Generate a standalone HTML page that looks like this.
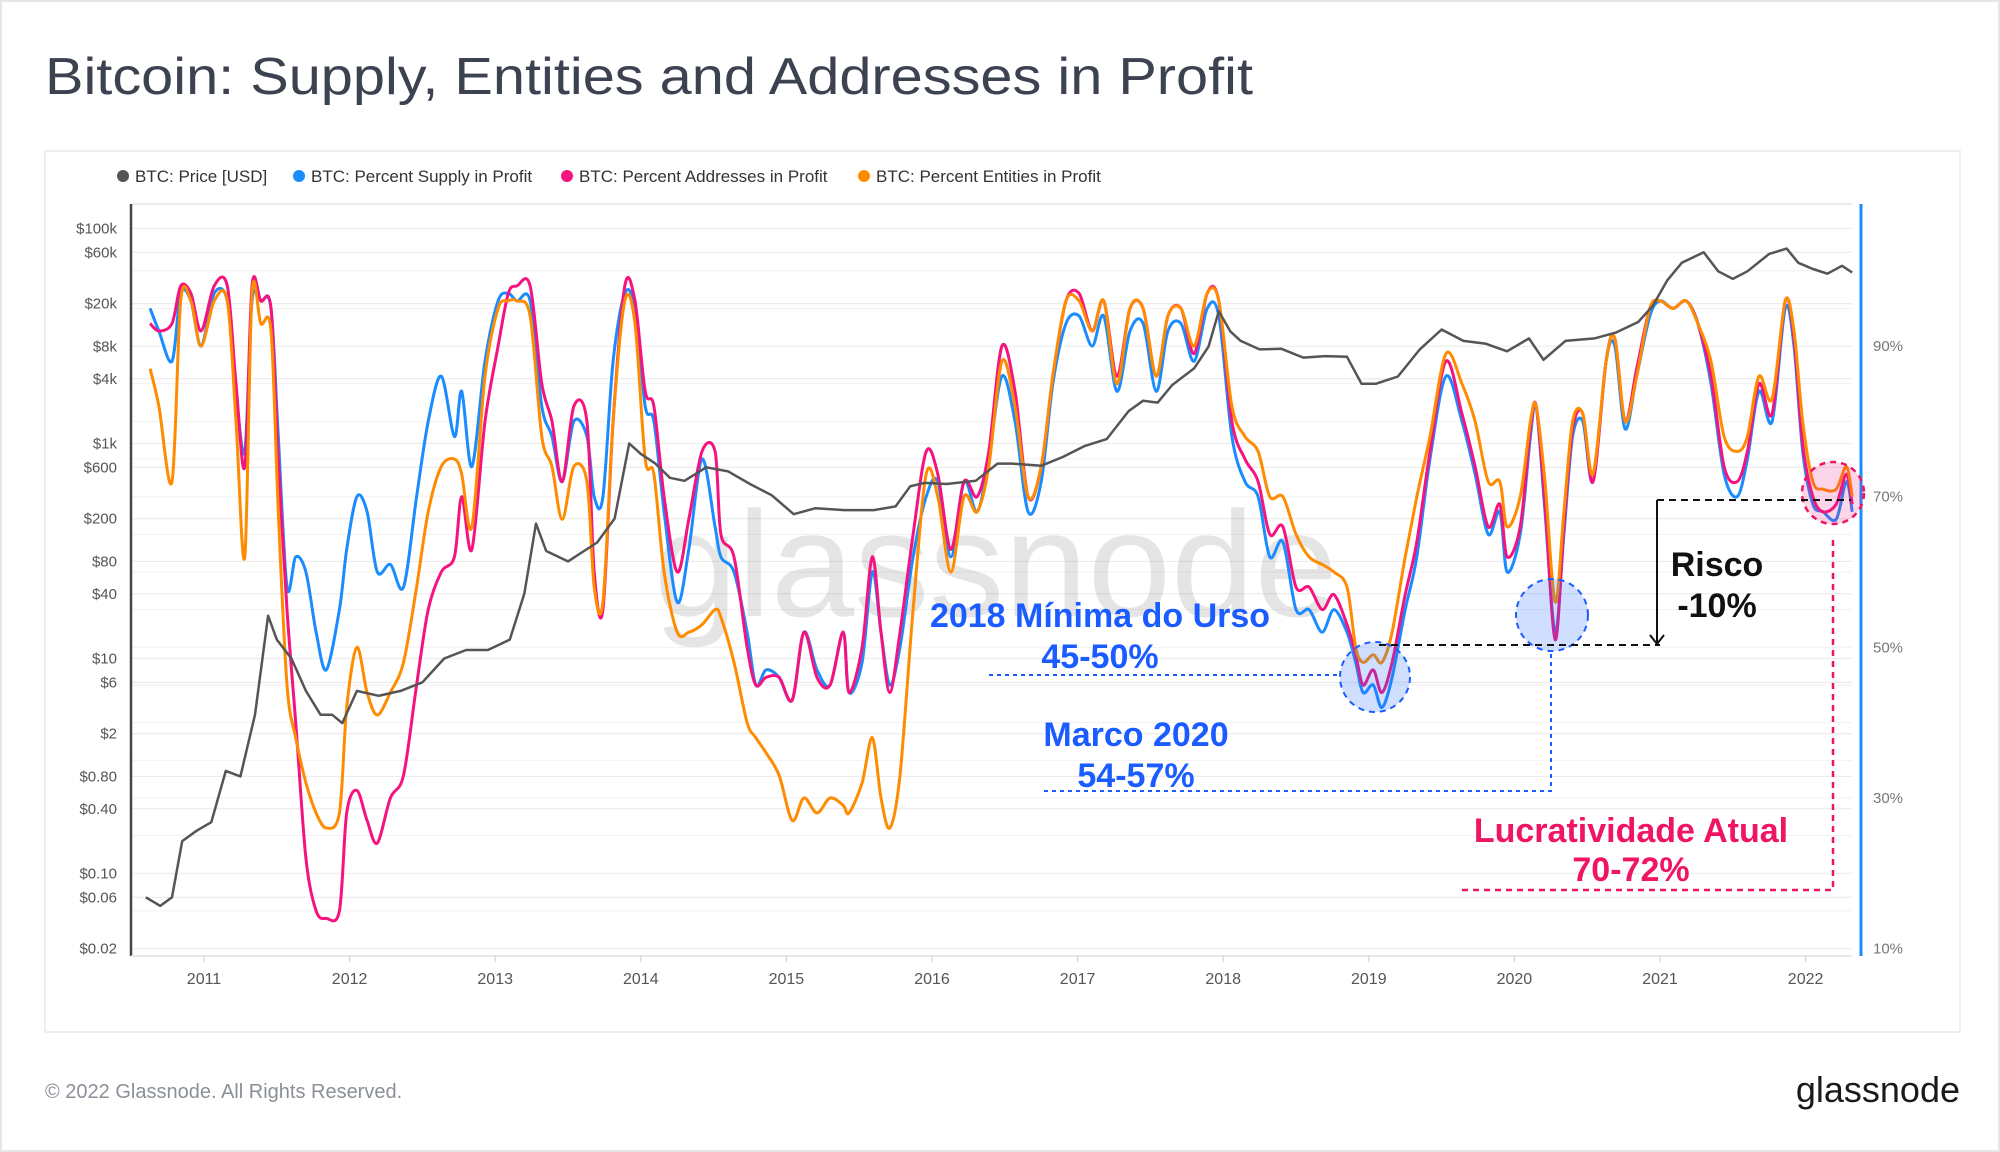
<!DOCTYPE html>
<html><head><meta charset="utf-8">
<style>
html,body{margin:0;padding:0;background:#fff;}
body{width:2000px;height:1152px;overflow:hidden;position:relative;font-family:"Liberation Sans",sans-serif;}
svg{position:absolute;left:0;top:0;}
</style></head>
<body>
<svg id="chart" width="2000" height="1152" xmlns="http://www.w3.org/2000/svg">
  <rect x="1" y="1" width="1998" height="1150" fill="#fff" stroke="#e6e6e6" stroke-width="2"/>
  <text x="45" y="94" font-size="52" fill="#3c4250" textLength="1208" lengthAdjust="spacingAndGlyphs">Bitcoin: Supply, Entities and Addresses in Profit</text>
  <rect x="45" y="151" width="1915" height="881" fill="#fff" stroke="#e8e8e8" stroke-width="1.5"/>
  <g id="legend" font-size="17" fill="#333"></g>
  <g id="grid"></g>
  <text x="996" y="616" font-size="150" fill="#000" fill-opacity="0.10" text-anchor="middle">glassnode</text>
  <g id="axes"></g>
  <g id="series"></g>
  <g id="annot"></g>
  <text x="45" y="1098" font-size="20" fill="#8a8f98">© 2022 Glassnode. All Rights Reserved.</text>
  <text x="1960" y="1102" font-size="36" fill="#1a1a1a" text-anchor="end">glassnode</text>
</svg>
<script>
const NS="http://www.w3.org/2000/svg";
const legendLabels=["BTC: Price [USD]","BTC: Percent Supply in Profit","BTC: Percent Addresses in Profit","BTC: Percent Entities in Profit"];
const yearTicks=[2011,2012,2013,2014,2015,2016,2017,2018,2019,2020,2021,2022];
const priceTicks=[100000,60000,20000,8000,4000,1000,600,200,80,40,10,6,2,0.8,0.4,0.1,0.06,0.02];
const priceTickLabels=["$100k","$60k","$20k","$8k","$4k","$1k","$600","$200","$80","$40","$10","$6","$2","$0.80","$0.40","$0.10","$0.06","$0.02"];
const pctTicks=[90,70,50,30,10];
const dates=[2010.63,2010.69,2010.78,2010.84,2010.91,2010.98,2011.07,2011.16,2011.22,2011.28,2011.33,2011.39,2011.46,2011.51,2011.57,2011.63,2011.70,2011.77,2011.84,2011.93,2011.98,2012.05,2012.12,2012.19,2012.28,2012.37,2012.46,2012.54,2012.63,2012.72,2012.77,2012.84,2012.93,2013.02,2013.09,2013.15,2013.24,2013.32,2013.39,2013.46,2013.54,2013.63,2013.68,2013.74,2013.81,2013.89,2013.96,2014.03,2014.09,2014.16,2014.25,2014.33,2014.42,2014.51,2014.55,2014.64,2014.73,2014.79,2014.86,2014.95,2015.04,2015.12,2015.21,2015.30,2015.39,2015.43,2015.52,2015.59,2015.65,2015.71,2015.78,2015.87,2015.96,2016.04,2016.13,2016.22,2016.31,2016.39,2016.48,2016.57,2016.66,2016.75,2016.83,2016.92,2017.01,2017.10,2017.18,2017.27,2017.36,2017.45,2017.54,2017.62,2017.71,2017.80,2017.89,2017.97,2018.06,2018.15,2018.24,2018.32,2018.41,2018.50,2018.59,2018.68,2018.76,2018.85,2018.91,2018.96,2019.03,2019.09,2019.16,2019.25,2019.33,2019.42,2019.53,2019.64,2019.73,2019.82,2019.90,2019.95,2020.04,2020.11,2020.15,2020.21,2020.28,2020.34,2020.40,2020.47,2020.54,2020.63,2020.69,2020.76,2020.84,2020.93,2021.00,2021.09,2021.18,2021.26,2021.35,2021.44,2021.53,2021.60,2021.68,2021.77,2021.86,2021.92,2021.98,2022.05,2022.12,2022.21,2022.28,2022.32];
const supplyPct=[95,92,88,97,96,90,97,96,84,76,96,96,95,78,58,62,60,52,47,55,63,70,68,60,61,58,70,80,86,78,84,74,88,96,97,96,96,82,78,72,80,78,70,70,88,97,95,82,80,68,56,63,75,66,62,60,52,45,47,46,43,52,47,45,52,44,48,60,52,45,50,62,70,72,62,72,68,75,86,80,68,72,85,93,94,90,94,84,92,93,84,92,93,88,95,94,78,72,70,62,64,55,55,52,55,52,48,44,45,42,46,55,62,75,86,80,73,65,68,60,65,78,82,68,52,65,78,80,72,88,90,79,86,94,96,95,96,93,85,73,70,75,84,80,95,90,76,69,68,67,72,68];
const addressPct=[93,92,93,98,97,92,98,98,85,74,98,96,95,75,55,40,22,15,14,15,28,31,27,24,30,33,45,55,60,62,70,63,80,90,97,98,98,85,80,72,82,80,60,55,80,98,96,84,82,70,60,67,76,76,65,62,50,45,46,46,43,52,46,45,52,44,50,62,52,44,52,65,76,73,63,72,70,76,90,84,70,74,86,96,97,92,96,86,95,95,86,94,95,89,97,96,80,75,72,65,66,58,58,55,57,53,49,45,47,44,48,57,64,76,88,81,74,66,69,62,66,79,82,69,51,66,79,81,72,88,91,80,87,95,96,95,96,93,86,74,72,76,85,81,96,91,77,70,68,69,73,69];
const entityPct=[87,82,72,96,96,90,96,96,80,62,97,93,92,68,45,38,32,28,26,28,42,50,44,41,44,48,58,68,74,75,73,66,86,95,96,96,94,78,74,67,74,72,58,56,80,96,93,75,73,60,52,52,53,55,54,48,40,38,36,33,27,30,28,30,29,28,32,38,30,26,33,55,73,70,60,70,68,74,88,82,70,74,86,96,96,92,96,85,95,95,86,94,95,90,97,96,82,78,76,70,70,65,62,61,60,58,50,48,49,48,52,62,70,78,89,85,80,72,72,66,70,80,82,72,56,68,80,81,73,88,91,80,86,95,96,95,96,93,88,78,76,78,86,83,96,92,80,72,71,71,74,70];
const priceDates=[2010.60,2010.70,2010.78,2010.85,2010.95,2011.05,2011.15,2011.25,2011.35,2011.44,2011.50,2011.60,2011.70,2011.80,2011.88,2011.95,2012.05,2012.20,2012.35,2012.50,2012.65,2012.80,2012.95,2013.10,2013.20,2013.28,2013.35,2013.50,2013.70,2013.82,2013.92,2014.00,2014.10,2014.20,2014.30,2014.45,2014.60,2014.75,2014.90,2015.05,2015.20,2015.40,2015.60,2015.75,2015.85,2015.95,2016.10,2016.30,2016.45,2016.55,2016.75,2016.90,2017.05,2017.20,2017.35,2017.45,2017.55,2017.65,2017.80,2017.90,2017.97,2018.05,2018.12,2018.25,2018.40,2018.55,2018.70,2018.85,2018.95,2019.05,2019.20,2019.35,2019.50,2019.65,2019.80,2019.95,2020.10,2020.20,2020.35,2020.55,2020.70,2020.85,2020.95,2021.05,2021.15,2021.30,2021.40,2021.50,2021.60,2021.75,2021.87,2021.95,2022.05,2022.15,2022.25,2022.32];
const priceUSD=[0.06,0.05,0.06,0.2,0.25,0.3,0.9,0.8,3,25,15,10,5,3,3,2.5,5,4.5,5,6,10,12,12,15,40,180,100,80,120,200,1000,800,650,480,450,600,550,420,330,220,250,240,240,260,400,430,420,450,650,650,620,750,950,1100,2000,2500,2400,3500,5000,8000,17000,11000,9000,7500,7600,6300,6500,6400,3600,3600,4200,7500,11500,9000,8500,7200,9500,6000,9000,9500,10800,13500,19000,33000,48000,60000,40000,34000,40000,58000,65000,48000,42000,38000,45000,39000];

const X=y=>204+(y-2011)*145.6;
const YP=p=>948.5-(p-10)*7.53;
const YL=v=>228.5+(5-Math.log10(v))*107.5;

function mk(tag,attrs,parent){const e=document.createElementNS(NS,tag);for(const k in attrs)e.setAttribute(k,attrs[k]);parent.appendChild(e);return e;}

const legColors=["#555","#1a8cff","#f5147f","#ff8c00"];
const legX=[123,299,567,864];
const lg=document.getElementById('legend');
legendLabels.forEach((t,i)=>{
  const g=mk('g',{},lg);
  
  
  mk('circle',{cx:legX[i],cy:176,r:6,fill:legColors[i]},g);
  const tx=mk('text',{x:legX[i]+12,y:182,'font-size':17,fill:'#333'},g);tx.textContent=t;
});

const grid=document.getElementById('grid');
priceTicks.forEach(v=>{const l=mk('line',{x1:132,x2:1852,y1:YL(v),y2:YL(v),stroke:'#ececec','stroke-width':1.2},grid);
  });
for(let p=10;p<=100;p+=5){const l=mk('line',{x1:132,x2:1852,y1:YP(p),y2:YP(p),stroke:'#f1f1f1','stroke-width':1},grid);
  }
mk('line',{x1:132,x2:1852,y1:204,y2:204,stroke:'#e6e6e6','stroke-width':1.5},grid);

const ax=document.getElementById('axes');
mk('line',{x1:131,x2:131,y1:204,y2:956,stroke:'#444','stroke-width':2.5},ax);
mk('line',{x1:1861,x2:1861,y1:204,y2:956,stroke:'#1a8cff','stroke-width':3},ax);
mk('line',{x1:131,x2:1852,y1:956,y2:956,stroke:'#e0e0e0','stroke-width':1.5},ax);
priceTicks.forEach((v,i)=>{const t=mk('text',{x:117,y:YL(v)+5,'font-size':15,fill:'#555','text-anchor':'end'},ax);
  t.textContent=priceTickLabels[i];});
pctTicks.forEach(p=>{const t=mk('text',{x:1873,y:YP(p)+5,'font-size':15,fill:'#777'},ax);
  t.textContent=p+'%';});
yearTicks.forEach(y=>{const t=mk('text',{x:X(y),y:984,'font-size':16,fill:'#555','text-anchor':'middle'},ax);
  t.textContent=y;
  mk('line',{x1:X(y),x2:X(y),y1:956,y2:962,stroke:'#ccc'},ax);});

const sg=document.getElementById('series');
function line(xs,ys,fx,fy,color,name,w,smooth){
  const pts=xs.map((x,i)=>[fx(x),fy(ys[i])]);
  let d='M'+pts[0][0].toFixed(1)+','+pts[0][1].toFixed(1);
  for(let i=1;i<pts.length;i++){
    if(!smooth){d+='L'+pts[i][0].toFixed(1)+','+pts[i][1].toFixed(1);continue;}
    const p0=pts[Math.max(0,i-2)],p1=pts[i-1],p2=pts[i],p3=pts[Math.min(pts.length-1,i+1)];
    const t=0.16;
    const c1=[p1[0]+(p2[0]-p0[0])*t,p1[1]+(p2[1]-p0[1])*t];
    const c2=[p2[0]-(p3[0]-p1[0])*t,p2[1]-(p3[1]-p1[1])*t];
    d+='C'+c1[0].toFixed(1)+','+c1[1].toFixed(1)+' '+c2[0].toFixed(1)+','+c2[1].toFixed(1)+' '+p2[0].toFixed(1)+','+p2[1].toFixed(1);
  }
  const p=mk('path',{d:d,fill:'none',stroke:color,'stroke-width':w,'stroke-linejoin':'round'},sg);
  
}
line(dates,supplyPct,X,YP,'#1a8cff','supply-in-profit-line',3,true);
line(dates,addressPct,X,YP,'#f5147f','addresses-in-profit-line',3,true);
line(dates,entityPct,X,YP,'#ff8c00','entities-in-profit-line',3,true);
line(priceDates,priceUSD,X,YL,'#555','price-line',2.5,false);
</script>
<svg width="2000" height="1152" style="pointer-events:none" xmlns="http://www.w3.org/2000/svg">
  <circle cx="1375" cy="677" r="35" fill="rgba(40,110,255,0.22)" stroke="#1a5cff" stroke-width="2" stroke-dasharray="6,5"/>
  <circle cx="1552" cy="615" r="36" fill="rgba(40,110,255,0.22)" stroke="#1a5cff" stroke-width="2" stroke-dasharray="6,5"/>
  <circle cx="1833" cy="493" r="31" fill="rgba(245,20,127,0.18)" stroke="#f01464" stroke-width="2.5" stroke-dasharray="6,5"/>
  <line x1="989" y1="675" x2="1340" y2="675" stroke="#1a5cff" stroke-width="2" stroke-dasharray="4,4"/>
  <polyline points="1044,791 1551,791 1551,651" fill="none" stroke="#1a5cff" stroke-width="2" stroke-dasharray="4,4"/>
  <polyline points="1462,890 1833,890 1833,536" fill="none" stroke="#f01464" stroke-width="2.5" stroke-dasharray="6,5"/>
  <line x1="1379" y1="645" x2="1660" y2="645" stroke="#111" stroke-width="2" stroke-dasharray="7,5"/>
  <line x1="1657" y1="500" x2="1851" y2="500" stroke="#111" stroke-width="2" stroke-dasharray="7,5"/>
  <line x1="1657" y1="500" x2="1657" y2="643" stroke="#111" stroke-width="2"/>
  <polyline points="1650,635 1657,644 1664,635" fill="none" stroke="#111" stroke-width="2"/>
  <g font-family="Liberation Sans, sans-serif" font-weight="bold" font-size="34" text-anchor="middle">
    <text x="1100" y="627" fill="#1a5cff">2018 Mínima do Urso</text>
    <text x="1100" y="668" fill="#1a5cff">45-50%</text>
    <text x="1136" y="746" fill="#1a5cff">Marco 2020</text>
    <text x="1136" y="787" fill="#1a5cff">54-57%</text>
    <text x="1717" y="576" fill="#111">Risco</text>
    <text x="1717" y="617" fill="#111">-10%</text>
    <text x="1631" y="842" fill="#f01464">Lucratividade Atual</text>
    <text x="1631" y="881" fill="#f01464">70-72%</text>
  </g>
</svg>
</body></html>
